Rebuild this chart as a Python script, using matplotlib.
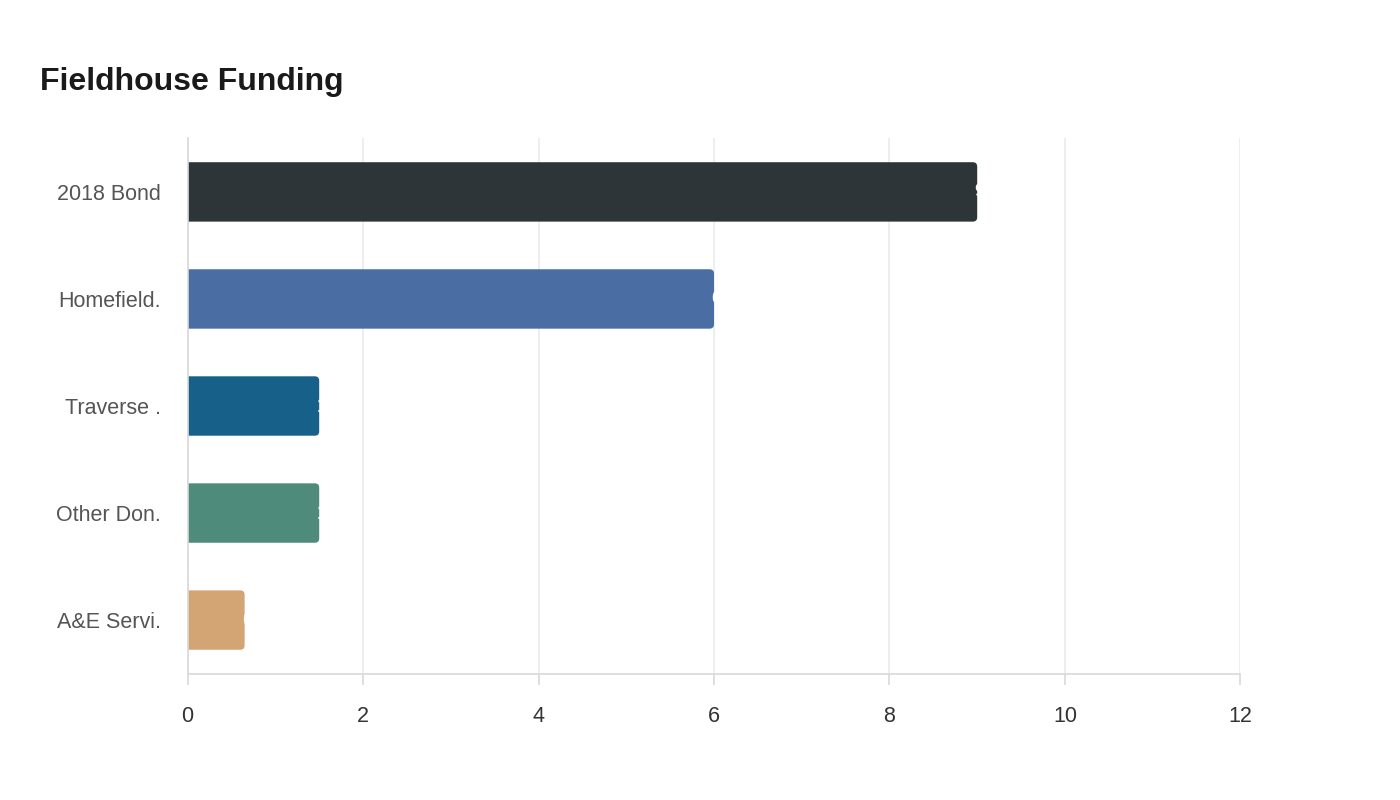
import matplotlib
matplotlib.use('Agg')
import matplotlib.pyplot as plt
from matplotlib.patches import FancyBboxPatch

plt.rcParams['font.family'] = ['Liberation Sans', 'DejaVu Sans']

# data
categories = ['2018 Bond', 'Homefield.', 'Traverse .', 'Other Don.', 'A&E Servi.']
values = [9, 6, 1.5, 1.5, 0.65]
value_labels = ['9', '6', '1.5', '1.5', '0.65']
colors = ['#2d3538', '#4a6ea3', '#176089', '#4e8b7a', '#d4a574']

fig = plt.figure(figsize=(14, 8), dpi=100)
ax = fig.add_axes([0.134, 0.158, 0.752, 0.669])

ax.set_xlim(0, 12)
ax.set_ylim(len(categories) - 0.5, -0.5)

bar_h = 0.555
# px per data unit, for equal corner rounding
px_x = 0.752 * 1400 / 12
px_y = 0.669 * 800 / 5
for i, (v, c) in enumerate(zip(values, colors)):
    box = FancyBboxPatch((-0.2, i - bar_h / 2), v + 0.2, bar_h,
                         boxstyle='round,pad=0,rounding_size=0.05',
                         mutation_aspect=px_x / px_y,
                         facecolor=c, edgecolor='none', zorder=3)
    ax.add_patch(box)
    ax.annotate(value_labels[i], (v, i), xytext=(-3, 0), textcoords='offset pixels',
                color='white', ha='left', va='center',
                fontsize=15, fontweight='bold', zorder=4)

ax.set_yticks(range(len(categories)))
ax.set_yticklabels(categories)
ax.set_xticks(range(0, 13, 2))

ax.grid(axis='x', color='#ebebeb', linewidth=1.2, zorder=0)
for s in ['top', 'right']:
    ax.spines[s].set_visible(False)
for s in ['left', 'bottom']:
    ax.spines[s].set_color('#d9d9d9')
    ax.spines[s].set_linewidth(1.2)
    ax.spines[s].set_zorder(5)

ax.tick_params(axis='y', length=0, pad=19, labelsize=15.5, labelcolor='#555555')
ax.tick_params(axis='x', length=8, width=1.2, color='#d9d9d9', pad=15,
               labelsize=15.5, labelcolor='#333333')

fig.text(40 / 1400, 1 - 82 / 800, 'Fieldhouse Funding', fontsize=23,
         fontweight='bold', color='#1a1a1a', ha='left', va='center')

fig.savefig('out.png', dpi=100, facecolor='white')
